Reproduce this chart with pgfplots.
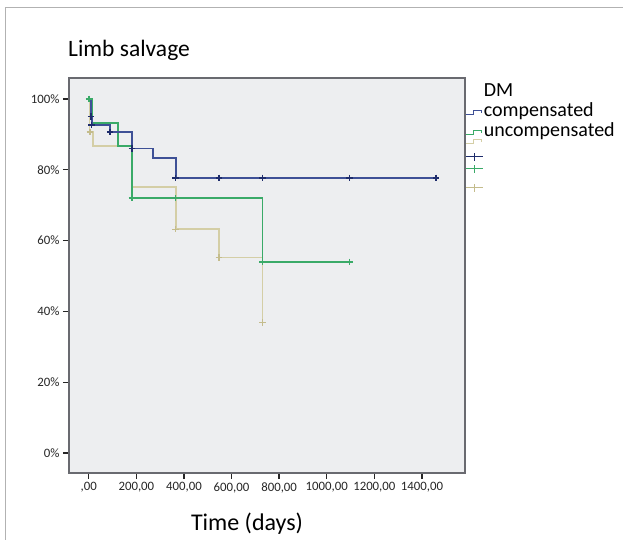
\documentclass[border=0pt]{standalone}
\usepackage{fontspec}
\setmainfont{Carlito}
\usepackage{pgfplots}
\pgfplotsset{compat=1.18}

\definecolor{comp}{RGB}{62,80,150}
\definecolor{compmark}{RGB}{30,44,108}
\definecolor{uncomp}{RGB}{58,170,104}
\definecolor{third}{RGB}{212,206,166}
\definecolor{thirdmark}{RGB}{196,188,140}
\definecolor{panel}{RGB}{237,238,240}
\definecolor{framec}{RGB}{105,106,112}

\begin{document}
\begin{tikzpicture}
\path[use as bounding box] (0pt,0pt) rectangle (623pt,-540pt);
% outer frame of the figure
\draw[gray!60, line width=1pt] (623pt,-8pt) -- (5pt,-8pt) -- (5pt,-540pt);
\node[anchor=base west, inner sep=0pt, font=\fontsize{23.5}{28}\selectfont] at (68pt,-56.5pt) {Limb salvage};
\node[anchor=base, inner sep=0pt, font=\fontsize{24}{28}\selectfont] at (247pt,-530pt) {Time (days)};

\begin{axis}[
  at={(69pt,-473pt)}, anchor=south west,
  scale only axis, width=396pt, height=395pt,
  xmin=-83, xmax=1581, ymin=-5.65, ymax=105.9,
  axis background/.style={fill=panel},
  axis line style={draw=framec, line width=1.8pt},
  tick align=outside, major tick length=6pt,
  tick style={black!85, line width=1.3pt},
  xtick pos=left, ytick pos=left,
  xtick={0,200,400,600,800,1000,1200,1400},
  xticklabels={{,00},{200,00},{400,00},{600,00},{800,00},{1000,00},{1200,00},{1400,00}},
  ytick={0,20,40,60,80,100},
  yticklabels={0\%,20\%,40\%,60\%,80\%,100\%},
  ticklabel style={font=\fontsize{12.8}{15}\selectfont, text=black!85},
  legend style={at={(1,1)}, anchor=north west, yshift=-4.5pt,
    draw=none, fill=none, inner sep=0pt, row sep=0pt, column sep=1pt,
    font=\fontsize{20}{24}\selectfont,
    nodes={inner sep=0pt, text height=14pt, text depth=6pt}},
  legend cell align=left,
]
% third group
\addplot[third, line width=1.8pt, const plot, forget plot] coordinates {
  (0,100) (3,90.7) (18,86.6) (181,75.2) (365,63.2) (547,55.2) (730,36.8)};
% uncompensated
\addplot[uncomp, line width=1.8pt, const plot, forget plot] coordinates {
  (0,100) (14,93.3) (122,86.7) (181,72.0) (730,54.0) (1095,54.0)};
% compensated
\addplot[comp, line width=1.8pt, const plot, forget plot] coordinates {
  (0,100) (8,95.0) (12,92.6) (90,90.7) (181,86.0) (270,83.2) (365,77.7) (1460,77.7)};

% censored observations
\addplot[only marks, mark=+, mark size=3.2pt, thirdmark, mark options={line width=1.4pt}, forget plot] coordinates {
  (5,90.7) (365,63.2) (547,55.2) (730,36.8)};
\addplot[only marks, mark=+, mark size=3.2pt, uncomp, mark options={line width=1.5pt}, forget plot] coordinates {
  (1,100) (181,72.0) (365,72.0) (730,54.0) (1095,54.0)};
\addplot[only marks, mark=+, mark size=3.2pt, compmark, mark options={line width=1.6pt}, forget plot] coordinates {
  (10,95.0) (12,92.6) (90,90.7) (181,86.0) (365,77.7) (547,77.7) (730,77.7) (1095,77.7) (1460,77.7)};

% legend
\addlegendimage{empty legend}
\addlegendentry{DM}
\addlegendimage{legend image code/.code={
  \draw[comp, line width=1.2pt] (0pt,-2pt) -- (8pt,-2pt) -- (8pt,2pt) -- (16pt,2pt) -- (16pt,0pt);}}
\addlegendentry{compensated}
\addlegendimage{legend image code/.code={
  \draw[uncomp, line width=1.2pt] (0pt,-2pt) -- (8pt,-2pt) -- (8pt,2pt) -- (16pt,2pt) -- (16pt,0pt);}}
\addlegendentry{uncompensated}
\addlegendimage{legend image code/.code={
  \path[draw=none, fill=none] (0pt,-2pt) rectangle (17pt,2pt);
  \draw[overlay, third, line width=1.2pt] (0pt,9pt) -- (8pt,9pt) -- (8pt,13pt) -- (16pt,13pt) -- (16pt,11pt);
  \draw[overlay, compmark, line width=1.3pt] (0pt,-4pt) -- (17pt,-4pt) (8.5pt,-8pt) -- (8.5pt,0pt);
  \draw[overlay, uncomp, line width=1.3pt] (0pt,-16pt) -- (17pt,-16pt) (8.5pt,-20pt) -- (8.5pt,-12pt);
  \draw[overlay, thirdmark, line width=1.2pt] (0pt,-35pt) -- (17pt,-35pt) (8.5pt,-39pt) -- (8.5pt,-31pt);}}
\addlegendentry{}
\end{axis}
\end{tikzpicture}
\end{document}
